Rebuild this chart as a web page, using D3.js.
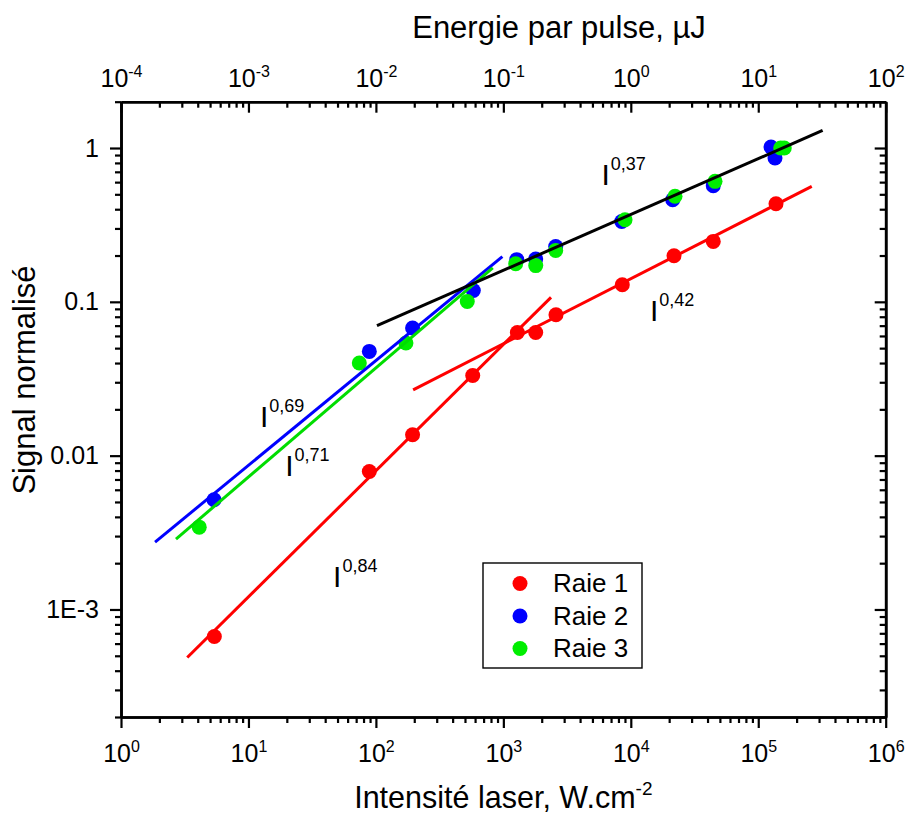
<!DOCTYPE html>
<html><head><meta charset="utf-8">
<script src="https://cdn.jsdelivr.net/npm/d3@7"></script>
<style>body{margin:0;background:#fff} svg{display:block;font-family:"Liberation Sans",Arial,sans-serif} svg text{font-family:"Liberation Sans",Arial,sans-serif}</style>
</head><body><svg id="c" width="906" height="815"></svg>
<script>
// ---- data ----
const raie1I = [5.40, 88.8, 194, 575, 1288, 1794, 2588, 8576, 21830, 44370, 137800];
const raie1S = [6.67e-4, 7.89e-3, 0.01367, 0.0332, 0.0632, 0.0632, 0.0824, 0.129, 0.1995, 0.247, 0.434];
const raie2I = [5.37, 88.8, 194, 581, 1274, 1794, 2575, 8486, 21320, 44370, 125900, 135300];
const raie2S = [5.17e-3, 0.0476, 0.0676, 0.1186, 0.188, 0.19, 0.229, 0.333, 0.461, 0.569, 1.015, 0.861];
const raie3I = [4.11, 74.1, 172, 521, 1250, 1795, 2575, 9010, 22230, 45800, 150000, 160000];
const raie3S = [3.43e-3, 0.040, 0.054, 0.1006, 0.177, 0.172, 0.216, 0.342, 0.486, 0.607, 1.0, 1.0];

// fitted power laws (end points)
const fitBlackI = [102, 3.2e5],  fitBlackS = [0.070, 1.30];
const fitBlueI  = [1.85, 982],   fitBlueS  = [2.74e-3, 0.197];
const fitGreenI = [2.70, 826],   fitGreenS = [2.87e-3, 0.166];
const fitRed1I  = [3.31, 2366],  fitRed1S  = [4.87e-4, 0.107];
const fitRed2I  = [196, 2.63e5], fitRed2S  = [0.0268, 0.563];

const seriesNames = ["Raie 1", "Raie 2", "Raie 3"];
const seriesColors = ["#ff0000", "#0000ff", "#00ee00"];

const xMajor = [1, 10, 100, 1e3, 1e4, 1e5, 1e6];
const xExp = ["0", "1", "2", "3", "4", "5", "6"];
const topMajor = [1e-4, 1e-3, 1e-2, 1e-1, 1, 10, 100];
const topExp = ["-4", "-3", "-2", "-1", "0", "1", "2"];
const yMajor = [1e-3, 1e-2, 0.1, 1];
const yLabels = ["1E-3", "0.01", "0.1", "1"];

const annotations = [
  {base: "I", exp: "0,37", I: 5890, S: 0.577},
  {base: "I", exp: "0,42", I: 14150, S: 0.0746},
  {base: "I", exp: "0,69", I: 12.3, S: 0.01545},
  {base: "I", exp: "0,71", I: 19.4, S: 0.0074},
  {base: "I", exp: "0,84", I: 46.1, S: 1.41e-3}
];

// ---- layout ----
const L = 121, R = 885.7, T = 101.7, B = 717;
const svg = d3.select("#c");
const x = d3.scaleLog().domain([1, 1e6]).range([L, R]);
const xt = d3.scaleLog().domain([1e-4, 1e2]).range([L, R]);
const y = d3.scaleLog().domain([2e-4, 2]).range([B, T]);

const isMajor = d => Math.abs(Math.log10(d) - Math.round(Math.log10(d))) < 1e-6;
const xMinor = x.ticks().filter(d => !isMajor(d));
const tMinor = xt.ticks().filter(d => !isMajor(d));
const yMinor = y.ticks().filter(d => !isMajor(d));

function styleAxis(g) {
  g.attr("font-size", null).attr("font-family", null);
  g.selectAll("path.domain").attr("stroke", "#000").attr("stroke-width", 2.6);
  g.selectAll(".tick line").attr("stroke", "#000").attr("stroke-width", 2.2);
  g.selectAll("text").attr("fill", "#000");
}

// bottom axis
const gB = svg.append("g").attr("transform", `translate(0,${B})`);
gB.append("g").call(d3.axisBottom(x).tickValues(xMinor).tickSize(6).tickSizeOuter(0).tickFormat("")).call(styleAxis);
gB.append("g").call(d3.axisBottom(x).tickValues(xMajor).tickSize(11).tickSizeOuter(0).tickFormat(() => "")).call(styleAxis)
  .selectAll(".tick text").each(function(d, i) {
    const t = d3.select(this).attr("y", 45).attr("dy", null).style("font-size", "25px");
    t.append("tspan").text("10");
    t.append("tspan").attr("dy", -10).style("font-size", "16px").text(xExp[i]);
  });

// top axis (ticks inward)
const gT = svg.append("g").attr("transform", `translate(0,${T})`);
gT.append("g").call(d3.axisTop(xt).tickValues(tMinor).tickSize(-6).tickSizeOuter(0).tickFormat("")).call(styleAxis);
gT.append("g").call(d3.axisTop(xt).tickValues(topMajor).tickSize(-11).tickSizeOuter(0).tickFormat(() => "")).call(styleAxis)
  .selectAll(".tick text").each(function(d, i) {
    const t = d3.select(this).attr("y", -15).attr("dy", null).style("font-size", "25px");
    t.append("tspan").text("10");
    t.append("tspan").attr("dy", -10).style("font-size", "16px").text(topExp[i]);
  });

// left axis
const gL = svg.append("g").attr("transform", `translate(${L},0)`);
gL.append("g").call(d3.axisLeft(y).tickValues(yMinor).tickSize(6).tickSizeOuter(0).tickFormat("")).call(styleAxis);
gL.append("g").call(d3.axisLeft(y).tickValues(yMajor).tickSize(11).tickSizeOuter(0).tickPadding(11)
  .tickFormat((d, i) => yLabels[i])).call(styleAxis)
  .selectAll(".tick text").style("font-size", "25px");

// right axis (ticks inward)
const gR = svg.append("g").attr("transform", `translate(${R},0)`);
gR.append("g").call(d3.axisRight(y).tickValues(yMinor).tickSize(-6).tickSizeOuter(0).tickFormat("")).call(styleAxis);
gR.append("g").call(d3.axisRight(y).tickValues(yMajor).tickSize(-11).tickSizeOuter(0).tickFormat("")).call(styleAxis);

// points
const series = [[raie1I, raie1S], [raie2I, raie2S], [raie3I, raie3S]];
series.forEach((s, k) => {
  svg.append("g").selectAll("circle").data(s[0]).join("circle")
    .attr("cx", d => x(d)).attr("cy", (d, i) => y(s[1][i])).attr("r", 7.5)
    .attr("fill", seriesColors[k]);
});

// fit lines
const fits = [
  [fitBlueI, fitBlueS, "#0000ff"],
  [fitGreenI, fitGreenS, "#00dd00"],
  [fitRed1I, fitRed1S, "#ff0000"],
  [fitRed2I, fitRed2S, "#ff0000"],
  [fitBlackI, fitBlackS, "#000000"]
];
const line = d3.line().x(d => x(d[0])).y(d => y(d[1]));
fits.forEach(f => {
  svg.append("path").datum(f[0].map((v, i) => [v, f[1][i]]))
    .attr("d", line).attr("fill", "none").attr("stroke", f[2]).attr("stroke-width", 3);
});

// annotations
annotations.forEach(a => {
  const t = svg.append("text").attr("x", x(a.I)).attr("y", y(a.S)).style("font-size", "30px").attr("fill", "#000");
  t.append("tspan").text(a.base);
  t.append("tspan").attr("dy", -15).attr("dx", 1).style("font-size", "18px").text(a.exp);
});

// legend
const lg = svg.append("g");
lg.append("rect").attr("x", 483).attr("y", 563).attr("width", 159).attr("height", 105)
  .attr("fill", "#fff").attr("stroke", "#000").attr("stroke-width", 1.4);
const legY = d3.scalePoint().domain(seriesNames).range([583.5, 648.5]);
seriesNames.forEach((n, k) => {
  lg.append("circle").attr("cx", 520).attr("cy", legY(n)).attr("r", 7.5).attr("fill", seriesColors[k]);
  lg.append("text").attr("x", 553).attr("y", legY(n) + 8.5).style("font-size", "26px").attr("fill", "#000").text(n);
});

// titles
const tb = svg.append("text").attr("x", (L + R) / 2).attr("y", 808).attr("text-anchor", "middle")
  .style("font-size", "30.5px").attr("fill", "#000");
tb.append("tspan").text("Intensité laser, W.cm");
tb.append("tspan").attr("dy", -13).style("font-size", "19px").text("-2");

svg.append("text").attr("x", 559).attr("y", 38).attr("text-anchor", "middle")
  .style("font-size", "31px").attr("fill", "#000").text("Energie par pulse, µJ");

svg.append("text").attr("transform", "translate(35,380) rotate(-90)").attr("text-anchor", "middle")
  .style("font-size", "31px").attr("fill", "#000").text("Signal normalisé");
</script></body></html>
